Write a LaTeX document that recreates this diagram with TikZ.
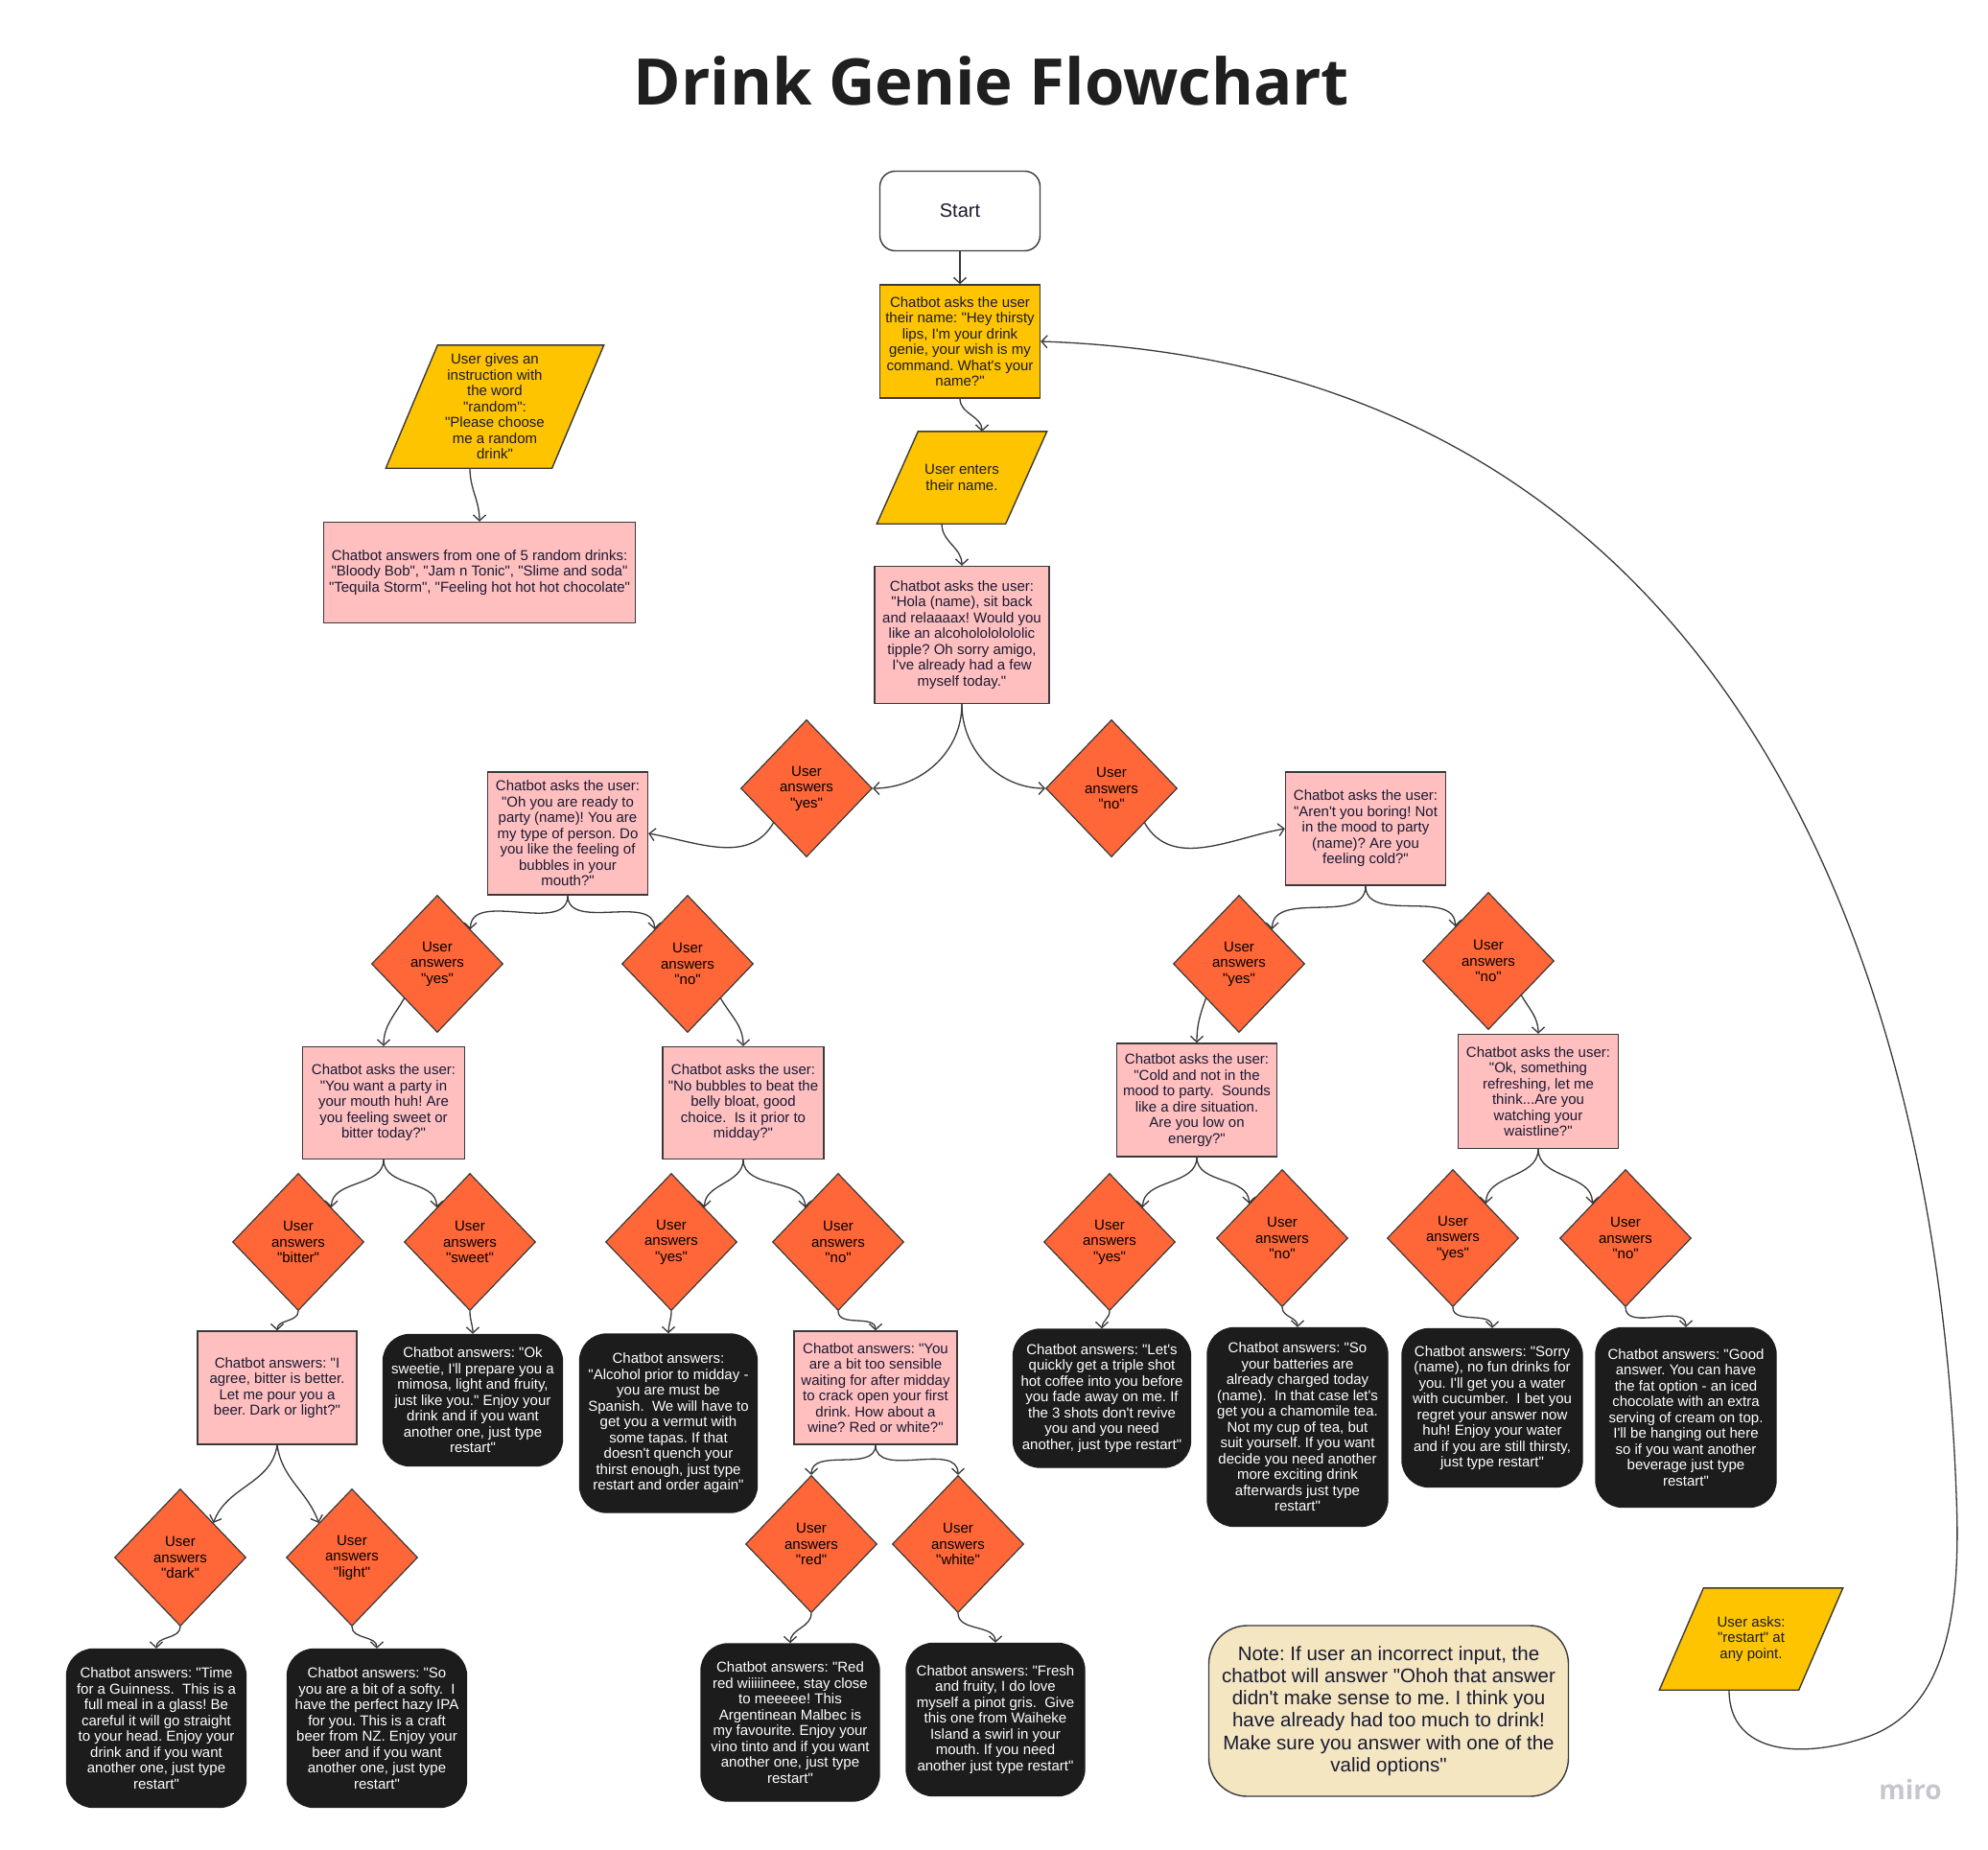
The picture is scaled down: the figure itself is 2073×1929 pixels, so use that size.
\documentclass[tikz,border=0pt]{standalone}
\usepackage{fontspec}
\setmainfont{Liberation Sans}[Ligatures=TeXOff]
\newfontfamily\titlefont{Open Sans}
\usetikzlibrary{shapes.geometric,arrows.meta,calc,backgrounds}
\definecolor{ylw}{HTML}{FFC400}
\definecolor{pnk}{HTML}{FFBFBF}
\definecolor{org}{HTML}{FF6638}
\definecolor{blk}{HTML}{1C1C1C}
\definecolor{notec}{HTML}{F3E6C0}
\definecolor{edgec}{HTML}{3A3A3A}
\definecolor{txt}{HTML}{1A1A33}
\definecolor{titlec}{HTML}{1F1F1F}
\definecolor{miroc}{HTML}{C6C7CE}
\newcommand\paradraw[2]{\draw[parashape] ($(#1.south west)+(-#2,0)$) -- ($(#1.south east)+(-#2,0)$) -- ($(#1.north east)+(#2,0)$) -- ($(#1.north west)+(#2,0)$) -- cycle;}
\begin{document}
\begin{tikzpicture}[x=1pt,y=1pt,
  base/.style={align=center, inner sep=2pt, font=\fontsize{15}{16.5}\selectfont\frenchspacing, text=txt},
  sz/.style 2 args={minimum width=#1pt, minimum height=#2pt},
  startbox/.style={base, draw=edgec, line width=1.4pt, fill=white, rounded corners=16pt, font=\fontsize{20}{22}\selectfont},
  ylwbox/.style={base, draw=edgec, line width=1.4pt, fill=ylw},
  pinkbox/.style={base, draw=edgec, line width=1.4pt, fill=pnk},
  blackbox/.style={base, draw=blk, line width=1.4pt, fill=blk, rounded corners=28pt, text=white},
  dia/.style={base, diamond, draw=edgec, line width=1.2pt, fill=org, minimum width=137pt, minimum height=143pt, inner sep=0pt, text=black},
  paratext/.style={base, inner sep=0pt},
  parashape/.style={draw=edgec, line width=1.4pt, fill=ylw},
  notebox/.style={align=center, draw=edgec, line width=1.4pt, fill=notec, rounded corners=40pt, font=\fontsize{20.5}{23.3}\selectfont\frenchspacing, text=txt},
  conn/.style={draw=edgec, line width=1.3pt, -{Straight Barb[length=6pt,width=13pt]}}
]
\useasboundingbox (0,0) rectangle (2073,-1929);

% title
\node[anchor=base, font=\titlefont\bfseries\fontsize{67}{70}\selectfont, text=titlec] (title) at (1034,-110) {Drink Genie Flowchart};

% top chain
\node[startbox, sz={167}{83}] (start) at (1001,-220) {Start};
\node[ylwbox, sz={167}{118}] (name) at (1001,-356) {Chatbot asks the user\\their name: "Hey thirsty\\lips, I'm your drink\\genie, your wish is my\\command. What's your\\name?"};
\node[paratext, sz={134}{96}] (enter) at (1003,-498) {User enters\\their name.};
\node[pinkbox, sz={182}{143}] (hola) at (1003,-662) {Chatbot asks the user:\\"Hola (name), sit back\\and relaaaax! Would you\\like an alcoholololololic\\tipple? Oh sorry amigo,\\I've already had a few\\myself today."};

% random branch
\node[paratext, sz={173}{128}] (giveq) at (516,-424) {User gives an\\instruction with\\the word\\"random":\\"Please choose\\me a random\\drink"};
\node[pinkbox, sz={325}{105}] (random) at (500,-597) {Chatbot answers from one of 5 random drinks:\\"Bloody Bob", "Jam n Tonic", "Slime and soda"\\"Tequila Storm", "Feeling hot hot hot chocolate"};

% level 1
\node[dia] (yes1) at (841,-822) {User\\answers\\"yes"};
\node[dia] (no1) at (1159,-822) {User\\answers\\"no"};
\node[pinkbox, sz={167}{128}] (oh) at (592,-869) {Chatbot asks the user:\\"Oh you are ready to\\party (name)! You are\\my type of person. Do\\you like the feeling of\\bubbles in your\\mouth?"};
\node[pinkbox, sz={167}{118}] (boring) at (1424,-864) {Chatbot asks the user:\\"Aren't you boring! Not\\in the mood to party\\(name)? Are you\\feeling cold?"};

% level 2
\node[dia] (yes2L) at (456,-1005) {User\\answers\\"yes"};
\node[dia] (no2L) at (717,-1005) {User\\answers\\"no"};
\node[dia] (yes2R) at (1292,-1005) {User\\answers\\"yes"};
\node[dia] (no2R) at (1552,-1002) {User\\answers\\"no"};

\node[pinkbox, sz={169}{117}] (sb) at (400,-1150) {Chatbot asks the user:\\"You want a party in\\your mouth huh! Are\\you feeling sweet or\\bitter today?"};
\node[pinkbox, sz={168}{117}] (nb) at (775,-1150) {Chatbot asks the user:\\"No bubbles to beat the\\belly bloat, good\\choice.\ \ Is it prior to\\midday?"};
\node[pinkbox, sz={167}{118}] (cold) at (1248,-1147) {Chatbot asks the user:\\"Cold and not in the\\mood to party.\ \ Sounds\\like a dire situation.\\Are you low on\\energy?"};
\node[pinkbox, sz={167}{119}] (waist) at (1604,-1138) {Chatbot asks the user:\\"Ok, something\\refreshing, let me\\think...Are you\\watching your\\waistline?"};

% level 3 diamonds
\node[dia] (bitter) at (311,-1295) {User\\answers\\"bitter"};
\node[dia] (sweet) at (490,-1295) {User\\answers\\"sweet"};
\node[dia] (myes) at (700,-1295) {User\\answers\\"yes"};
\node[dia] (mno) at (874,-1295) {User\\answers\\"no"};
\node[dia] (cyes) at (1157,-1295) {User\\answers\\"yes"};
\node[dia] (cno) at (1337,-1291) {User\\answers\\"no"};
\node[dia] (wyes) at (1515,-1291) {User\\answers\\"yes"};
\node[dia] (wno) at (1695,-1291) {User\\answers\\"no"};

% level 3 answers
\node[pinkbox, sz={166}{118}] (agree) at (289,-1447) {Chatbot answers: "I\\agree, bitter is better.\\Let me pour you a\\beer. Dark or light?"};
\node[blackbox, sz={187}{137}] (sweetie) at (493,-1460) {Chatbot answers: "Ok\\sweetie, I'll prepare you a\\mimosa, light and fruity,\\just like you." Enjoy your\\drink and if you want\\another one, just type\\restart"};
\node[blackbox, sz={185}{186}] (alcohol) at (697,-1484) {Chatbot answers:\\"Alcohol prior to midday -\\you are must be\\Spanish.\ \ We will have to\\get you a vermut with\\some tapas. If that\\doesn't quench your\\thirst enough, just type\\restart and order again"};
\node[pinkbox, sz={170}{118}] (sensible) at (913,-1447) {Chatbot answers: "You\\are a bit too sensible\\waiting for after midday\\to crack open your first\\drink. How about a\\wine? Red or white?"};
\node[blackbox, sz={185}{144}] (lets) at (1149,-1458) {Chatbot answers: "Let's\\quickly get a triple shot\\hot coffee into you before\\you fade away on me. If\\the 3 shots don't revive\\you and you need\\another, just type restart"};
\node[blackbox, sz={188}{207}] (so) at (1353,-1488) {Chatbot answers: "So\\your batteries are\\already charged today\\(name).\ \ In that case let's\\get you a chamomile tea.\\Not my cup of tea, but\\suit yourself. If you want\\decide you need another\\more exciting drink\\afterwards just type\\restart"};
\node[blackbox, sz={188}{165}] (sorry) at (1556,-1468) {Chatbot answers: "Sorry\\(name), no fun drinks for\\you. I'll get you a water\\with cucumber.\ \ I bet you\\regret your answer now\\huh! Enjoy your water\\and if you are still thirsty,\\just type restart"};
\node[blackbox, sz={188}{187}] (good) at (1758,-1478) {Chatbot answers: "Good\\answer. You can have\\the fat option - an iced\\chocolate with an extra\\serving of cream on top.\\I'll be hanging out here\\so if you want another\\beverage just type\\restart"};

% level 4
\node[dia] (dark) at (188,-1624) {User\\answers\\"dark"};
\node[dia] (light) at (367,-1624) {User\\answers\\"light"};
\node[dia] (red) at (846,-1610) {User\\answers\\"red"};
\node[dia] (white) at (999,-1610) {User\\answers\\"white"};

\node[blackbox, sz={187}{165}] (guin) at (163,-1802) {Chatbot answers: "Time\\for a Guinness.\ \ This is a\\full meal in a glass! Be\\careful it will go straight\\to your head. Enjoy your\\drink and if you want\\another one, just type\\restart"};
\node[blackbox, sz={187}{165}] (softy) at (393,-1802) {Chatbot answers: "So\\you are a bit of a softy.\ \ I\\have the perfect hazy IPA\\for you. This is a craft\\beer from NZ. Enjoy your\\beer and if you want\\another one, just type\\restart"};
\node[blackbox, sz={186}{164}] (redbox) at (824,-1796) {Chatbot answers: "Red\\red wiiiiineee, stay close\\to meeeee! This\\Argentinean Malbec is\\my favourite. Enjoy your\\vino tinto and if you want\\another one, just type\\restart"};
\node[blackbox, sz={186}{159}] (fresh) at (1038,-1793) {Chatbot answers: "Fresh\\and fruity, I do love\\myself a pinot gris.\ \ Give\\this one from Waiheke\\Island a swirl in your\\mouth. If you need\\another just type restart"};

% note and restart
\node[notebox, sz={375}{178}] (note) at (1448,-1784) {Note: If user an incorrect input, the\\chatbot will answer "Ohoh that answer\\didn't make sense to me. I think you\\have already had too much to drink!\\Make sure you answer with one of the\\valid options"};
\node[paratext, sz={145}{106}] (restart) at (1826,-1709) {User asks:\\"restart" at\\any point.};
\node[font=\titlefont\bfseries\fontsize{28}{30}\selectfont, text=miroc] (miro) at (1992,-1866) {miro};

% parallelogram shapes and page background
\begin{pgfonlayer}{background}
\fill[white] (0,0) rectangle (2073,-1929);
\paradraw{enter}{21.5}
\paradraw{giveq}{27}
\paradraw{restart}{23}
\end{pgfonlayer}

% connectors
\draw[conn] (start.south) -- (name.north);
\draw[conn] (name.south) to[out=270,in=90] ([xshift=21pt]enter.north);
\draw[conn] ([xshift=-21pt]enter.south) to[out=270,in=90] (hola.north);
\draw[conn] ([xshift=-26pt]giveq.south) to[out=270,in=90] (random.north);

\draw[conn] (hola.south) to[out=270,in=0] (yes1.east);
\draw[conn] (hola.south) to[out=270,in=180] (no1.west);
\draw[conn] (yes1.south west) to[out=240,in=-10] (oh.east);
\draw[conn] (no1.south east) to[out=-60,in=190] (boring.west);

\draw[conn] (oh.south) to[out=270,in=90] (yes2L.north east);
\draw[conn] (oh.south) to[out=270,in=90] (no2L.north west);
\draw[conn] (boring.south) to[out=270,in=90] (yes2R.north east);
\draw[conn] (boring.south) to[out=270,in=90] (no2R.north west);

\draw[conn] (yes2L.south west) to[out=240,in=90] (sb.north);
\draw[conn] (no2L.south east) to[out=-60,in=90] (nb.north);
\draw[conn] (yes2R.south west) to[out=250,in=90] (cold.north);
\draw[conn] (no2R.south east) to[out=-60,in=90] (waist.north);

\draw[conn] (sb.south) to[out=270,in=90] (bitter.north east);
\draw[conn] (sb.south) to[out=270,in=90] (sweet.north west);
\draw[conn] (nb.south) to[out=270,in=90] (myes.north east);
\draw[conn] (nb.south) to[out=270,in=90] (mno.north west);
\draw[conn] (cold.south) to[out=270,in=90] (cyes.north east);
\draw[conn] (cold.south) to[out=270,in=90] (cno.north west);
\draw[conn] (waist.south) to[out=270,in=90] (wyes.north east);
\draw[conn] (waist.south) to[out=270,in=90] (wno.north west);

\draw[conn] (bitter.south) to[out=270,in=90] (agree.north);
\draw[conn] (sweet.south) to[out=270,in=90] (sweetie.north);
\draw[conn] (myes.south) to[out=270,in=90] (alcohol.north);
\draw[conn] (mno.south) to[out=270,in=90] (sensible.north);
\draw[conn] (cyes.south) to[out=270,in=90] (lets.north);
\draw[conn] (cno.south) to[out=270,in=90] (so.north);
\draw[conn] (wyes.south) to[out=270,in=90] (sorry.north);
\draw[conn] (wno.south) to[out=270,in=90] (good.north);

\draw[conn] (agree.south) to[out=262,in=70] (dark.north east);
\draw[conn] (agree.south) to[out=278,in=110] (light.north west);
\draw[conn] (sensible.south) to[out=270,in=90] (red.north);
\draw[conn] (sensible.south) to[out=270,in=90] (white.north);

\draw[conn] (dark.south) to[out=270,in=90] (guin.north);
\draw[conn] (light.south) to[out=270,in=90] (softy.north);
\draw[conn] (red.south) to[out=270,in=90] (redbox.north);
\draw[conn] (white.south) to[out=270,in=90] (fresh.north);

% restart loop
\draw[conn] ([xshift=-23pt]restart.south) .. controls (1803,-1830) and (1880,-1835) .. (1950,-1810)
  .. controls (2030,-1780) and (2045,-1680) .. (2040,-1560)
  .. controls (2020,-1000) and (1800,-380) .. (name.east);
\end{tikzpicture}
\end{document}
